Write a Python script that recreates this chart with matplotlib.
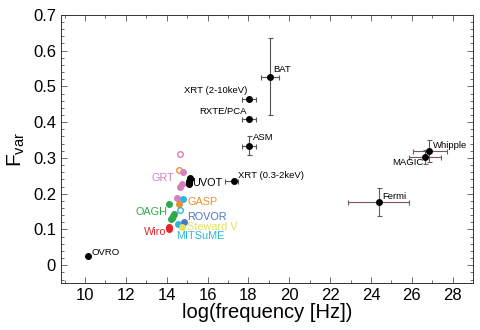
import matplotlib
matplotlib.use("Agg")
import matplotlib.pyplot as plt
from matplotlib.ticker import MultipleLocator

plt.rcParams['font.family'] = ['Liberation Sans', 'DejaVu Sans']
plt.rcParams['mathtext.default'] = 'regular'

# High-energy / radio instruments (black points with error bars)
hi_names = ["OVRO", "BAT", "XRT (2-10keV)", "RXTE/PCA", "ASM", "XRT (0.3-2keV)", "Whipple", "MAGIC", "Fermi"]
hi_x = [10.16, 19.05, 18.04, 18.04, 18.04, 17.29, 26.85, 26.65, 24.38]
hi_y = [0.025, 0.525, 0.465, 0.41, 0.333, 0.235, 0.318, 0.302, 0.177]
hi_xlo = [0.0, 0.45, 0.35, 0.35, 0.35, 0.45, 0.82, 0.78, 1.5]
hi_xhi = [0.0, 0.45, 0.35, 0.35, 0.35, 0.2, 0.88, 0.78, 1.5]
hi_ylo = [0.0, 0.105, 0.0, 0.0, 0.025, 0.0, 0.028, 0.02, 0.04]
hi_yhi = [0.0, 0.11, 0.0, 0.0, 0.027, 0.0, 0.033, 0.02, 0.04]

# UVOT points
uvot_x = [15.16, 15.13, 15.11, 15.09, 15.07]
uvot_y = [0.245, 0.240, 0.235, 0.231, 0.227]

# Optical points: x, y, colour key, filled
opt_x = [14.65, 14.62, 14.81, 14.65, 14.73, 14.52, 14.78, 14.62, 14.12, 14.65, 14.20, 14.25, 14.30, 14.35, 14.84, 14.57, 14.73, 14.12, 14.12]
opt_y = [0.312, 0.266, 0.262, 0.220, 0.226, 0.188, 0.185, 0.172, 0.172, 0.155, 0.128, 0.133, 0.138, 0.142, 0.120, 0.116, 0.108, 0.100, 0.106]
opt_src = ["GRT", "GASP", "GRT", "GRT", "GRT", "GRT", "MITSuME", "GASP", "OAGH", "MITSuME", "OAGH", "OAGH", "OAGH", "OAGH", "ROVOR", "MITSuME", "Steward V", "Wiro", "Wiro"]
opt_filled = [False, False, True, True, True, True, True, True, True, False, True, True, True, True, True, True, True, True, True]

colors = {"GRT": "#d77fbf", "GASP": "#ef8f2a", "OAGH": "#2da84a", "ROVOR": "#4b76c6",
          "Steward V": "#e3e25a", "Wiro": "#e6262a", "MITSuME": "#2bb7d9"}

fig = plt.figure(figsize=(4.8, 3.3), dpi=100)
ax = fig.add_axes([0.127, 0.142, 0.858, 0.813])

err_col = ["#555555"] * 6 + ["#7a5555"] * 3
ms = 4.0
for i in range(len(hi_x)):
    ax.errorbar(hi_x[i], hi_y[i], xerr=[[hi_xlo[i]], [hi_xhi[i]]], yerr=[[hi_ylo[i]], [hi_yhi[i]]],
                fmt='o', color='black', ms=ms, ecolor=err_col[i], elinewidth=0.8, capsize=1.8, capthick=0.8)

ax.plot(uvot_x, uvot_y, 'o', color='black', ms=ms)

for x, y, s, f in zip(opt_x, opt_y, opt_src, opt_filled):
    c = colors[s]
    if f:
        ax.plot(x, y, 'o', color=c, ms=ms)
    else:
        ax.plot(x, y, 'o', mfc='none', mec=c, ms=ms, mew=1.0)

fs = 6.8
kw = dict(fontsize=fs, va='center')
kc = dict(fontsize=7.8, va='center')
# instrument labels
ax.text(10.33, 0.036, "OVRO", **kw)
ax.text(19.21, 0.548, "BAT", **kw)
ax.text(17.94, 0.488, "XRT (2-10keV)", ha='right', **kw)
ax.text(17.91, 0.431, "RXTE/PCA", ha='right', **kw)
ax.text(18.23, 0.358, "ASM", **kw)
ax.text(17.47, 0.252, "XRT (0.3-2keV)", **kw)
ax.text(27.04, 0.336, "Whipple", **kw)
ax.text(26.55, 0.288, "MAGIC", ha='right', **kw)
ax.text(24.55, 0.191, "Fermi", **kw)
ax.text(15.22, 0.231, "UVOT", **kc)
ax.text(14.37, 0.243, "GRT", color=colors["GRT"], ha='right', **kc)
ax.text(15.0, 0.176, "GASP", color=colors["GASP"], **kc)
ax.text(14.05, 0.149, "OAGH", color=colors["OAGH"], ha='right', **kc)
ax.text(15.0, 0.134, "ROVOR", color=colors["ROVOR"], **kc)
ax.text(15.0, 0.107, "Steward V", color=colors["Steward V"], **kc)
ax.text(14.0, 0.093, "Wiro", color=colors["Wiro"], ha='right', **kc)
ax.text(14.44, 0.081, "MITSuME", color=colors["MITSuME"], **kc)

ax.set_xlim(8.82, 28.98)
ax.set_ylim(-0.05, 0.7)
ax.xaxis.set_major_locator(MultipleLocator(2))
ax.xaxis.set_minor_locator(MultipleLocator(1))
ax.yaxis.set_major_locator(MultipleLocator(0.1))
ax.yaxis.set_minor_locator(MultipleLocator(0.02))
ax.tick_params(which='both', direction='in', top=True, right=True, labelsize=12, width=0.6, color='#555555')
ax.tick_params(which='major', length=4)
ax.tick_params(which='minor', length=2)
ax.set_yticks([0, 0.1, 0.2, 0.3, 0.4, 0.5, 0.6, 0.7])
ax.set_yticklabels(["0", "0.1", "0.2", "0.3", "0.4", "0.5", "0.6", "0.7"])
for sp in ax.spines.values():
    sp.set_linewidth(0.7)
    sp.set_color('#333333')

ax.set_xlabel("log(frequency [Hz])", fontsize=14.5, labelpad=0)
ax.set_ylabel("F$_{var}$", fontsize=15, labelpad=4)

fig.savefig("out.png", dpi=100)
